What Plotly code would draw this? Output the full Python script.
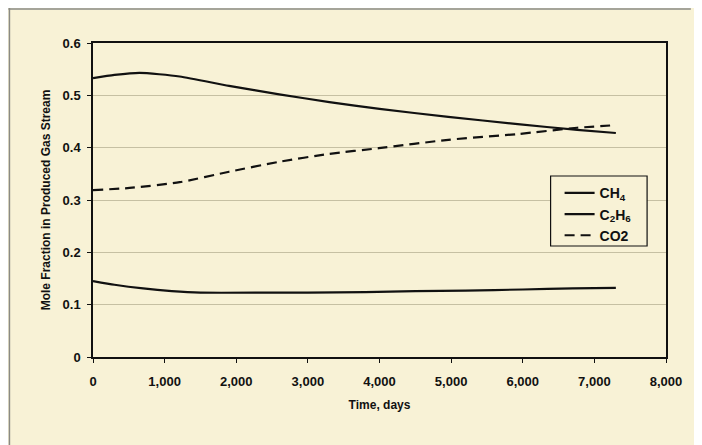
import plotly.graph_objects as go

# Data
ch4_days = [0, 300, 650, 1210, 1900, 2600, 3300, 4000, 4960, 5930, 6760, 7300]
ch4_frac = [0.533, 0.539, 0.543, 0.536, 0.518, 0.502, 0.487, 0.474, 0.459, 0.445, 0.434, 0.428]

c2h6_days = [0, 300, 700, 1100, 1500, 2500, 3000, 3800, 4500, 5200, 6000, 6700, 7300]
c2h6_frac = [0.145, 0.138, 0.131, 0.126, 0.123, 0.123, 0.123, 0.124, 0.126, 0.127, 0.129, 0.131, 0.132]

co2_days = [0, 510, 1210, 1900, 2600, 3290, 3990, 4960, 5930, 6760, 7300]
co2_frac = [0.319, 0.323, 0.334, 0.354, 0.373, 0.388, 0.399, 0.415, 0.426, 0.438, 0.443]

x_ticks = [0, 1000, 2000, 3000, 4000, 5000, 6000, 7000, 8000]
x_tick_text = ["0", "1,000", "2,000", "3,000", "4,000", "5,000", "6,000", "7,000", "8,000"]
y_ticks = [0, 0.1, 0.2, 0.3, 0.4, 0.5, 0.6]
y_tick_text = ["0", "0.1", "0.2", "0.3", "0.4", "0.5", "0.6"]

BG = "#f8f2d6"
FONT = "Liberation Sans, Arial, sans-serif"
INK = "#111111"

fig = go.Figure()
fig.add_trace(go.Scatter(x=ch4_days, y=ch4_frac, mode="lines", name="CH<sub>4</sub>",
                         line=dict(color=INK, width=2.2, shape="spline", smoothing=0.6)))
fig.add_trace(go.Scatter(x=c2h6_days, y=c2h6_frac, mode="lines", name="C<sub>2</sub>H<sub>6</sub>",
                         line=dict(color=INK, width=2.2, shape="spline", smoothing=0.5)))
fig.add_trace(go.Scatter(x=co2_days, y=co2_frac, mode="lines", name="CO2",
                         line=dict(color=INK, width=2.2, dash="10px,6px", shape="spline", smoothing=0.6)))

# page has an 8px body margin, so the figure is sized to fit the 702x445 window
W, H = 686, 437
L, R, T, B = 85, 25, 35, 88
pw, ph = W - L - R, H - T - B

# legend frame (drawn as a shape so it can carry the reference's padding)
leg_x0, leg_x1 = 0.7986, 0.967
leg_y0, leg_y1 = 0.3535, 0.5764

fig.update_layout(
    width=W, height=H,
    margin=dict(l=L, r=R, t=T, b=B),
    paper_bgcolor=BG, plot_bgcolor=BG,
    font=dict(family=FONT, size=12, color=INK),
    showlegend=True,
    legend=dict(x=leg_x0, y=leg_y1 - 0.004, xanchor="left", yanchor="top",
                bgcolor="rgba(0,0,0,0)", borderwidth=0,
                font=dict(family=FONT, size=14, color=INK, weight="bold"),
                itemwidth=30, indentation=9),
    xaxis=dict(range=[0, 8000], tickvals=x_ticks, ticktext=x_tick_text,
               showgrid=False, zeroline=False,
               showline=True, linecolor=INK, linewidth=1.5, mirror=True,
               ticks="outside", ticklen=4, tickcolor=INK, ticklabelstandoff=8,
               tickfont=dict(family=FONT, size=13, weight="bold"),
               title=dict(text="Time, days", font=dict(family=FONT, size=12, weight="bold"), standoff=12)),
    yaxis=dict(range=[0, 0.6], tickvals=y_ticks, ticktext=y_tick_text,
               showgrid=True, gridcolor="#c6c0a3", gridwidth=1,
               zeroline=False,
               showline=True, linecolor=INK, linewidth=1.5, mirror=True,
               ticks="outside", ticklen=4, tickcolor=INK, ticklabelstandoff=4,
               tickfont=dict(family=FONT, size=13, weight="bold"),
               title=dict(text="Mole Fraction in Produced Gas Stream",
                          font=dict(family=FONT, size=12, weight="bold"), standoff=9)),
    shapes=[
        dict(type="rect", xref="paper", yref="paper", layer="above",
             x0=leg_x0, x1=leg_x1, y0=leg_y0, y1=leg_y1,
             fillcolor=BG, line=dict(color=INK, width=1.2)),
        dict(type="line", xref="paper", yref="paper",
             x0=-L / pw, x1=(W - L) / pw, y0=1 + (T - 1) / ph, y1=1 + (T - 1) / ph,
             line=dict(color="#8a8a84", width=1.5)),
        dict(type="line", xref="paper", yref="paper",
             x0=-(L - 1) / pw, x1=-(L - 1) / pw, y0=-B / ph, y1=1 + T / ph,
             line=dict(color="#8a8a84", width=1.5)),
    ],
)

fig.write_html("out.html")
